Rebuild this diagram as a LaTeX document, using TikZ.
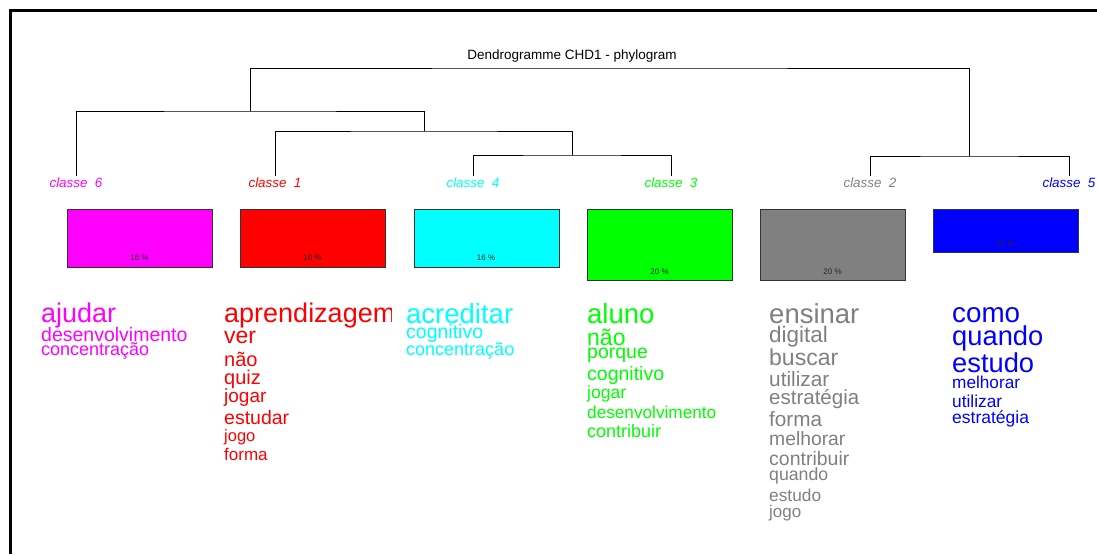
\documentclass[tikz,border=0pt]{standalone}
\usepackage{fontspec}
\setmainfont{Liberation Sans}
\definecolor{cmag}{HTML}{FF00FF}
\definecolor{cred}{HTML}{FF0000}
\definecolor{ccyan}{HTML}{00FFFF}
\definecolor{cgreen}{HTML}{00FF00}
\definecolor{cgray}{HTML}{808080}
\definecolor{cblue}{HTML}{0000FF}
\newcommand\fsz[1]{\fontsize{#1}{#1}\selectfont}
\tikzset{
  dl/.style={draw=black, line width=1pt},
  cls/.style={anchor=base, inner sep=0pt, outer sep=1pt, font=\fsz{13.4}\itshape},
  box/.style={draw=black!80, line width=0.8pt, anchor=north west, minimum width=145pt, inner sep=0pt},
  pct/.style={anchor=base, inner sep=0pt, font=\fsz{8}, text=black!85},
  w/.style={anchor=base west, inner sep=0pt},
}
\begin{document}
\begin{tikzpicture}[x=1pt,y=-1pt]
\useasboundingbox (0,0) rectangle (1097,554);
\fill[white] (0,0) rectangle (1097,554);
% frame
\draw[line width=3pt] (10,554) -- (10,10) -- (1097,10);
% title
\node[anchor=base, inner sep=0pt, font=\fsz{13.5}] (title) at (572,59) {Dendrogramme CHD1 - phylogram};
% class labels
\node[cls, text=cmag] (c6) at (76,187) {classe\ \ 6};
\node[cls, text=cred] (c1) at (275,187) {classe\ \ 1};
\node[cls, text=ccyan] (c4) at (473,187) {classe\ \ 4};
\node[cls, text=cgreen] (c3) at (671,187) {classe\ \ 3};
\node[cls, text=cgray] (c2) at (870,187) {classe\ \ 2};
\node[cls, text=cblue] (c5) at (1069,187) {classe\ \ 5};
% junctions
\coordinate (root) at (609.5,68);
\coordinate (A) at (250,111);
\coordinate (B) at (969,156);
\coordinate (C) at (424,131);
\coordinate (D) at (572,155);
\draw[dl] (A) |- (root) -| (B);
\draw[dl] (c6.north) |- (A) -| (C);
\draw[dl] (c1.north) |- (C) -| (D);
\draw[dl] (c4.north) |- (D) -| (c3.north);
\draw[dl] (c2.north) |- (B) -| (c5.north);
% boxes
\node[box, fill=cmag, minimum height=58pt] (b6) at (67,209) {};
\node[box, fill=cred, minimum height=58pt] (b1) at (240,209) {};
\node[box, fill=ccyan, minimum height=58pt] (b4) at (414,209) {};
\node[box, fill=cgreen, minimum height=71pt] (b3) at (587,209) {};
\node[box, fill=cgray, minimum height=71pt] (b2) at (760,209) {};
\node[box, fill=cblue, minimum height=43pt] (b5) at (933,209) {};
\node[pct] (p6) at (139.5,260) {16 \%};
\node[pct] (p1) at (312.5,260) {16 \%};
\node[pct] (p4) at (486,260) {16 \%};
\node[pct] (p3) at (659.5,274) {20 \%};
\node[pct] (p2) at (832.5,274) {20 \%};
\node[pct] (p5) at (1005.5,246) {12 \%};
% classe 6 words
\begin{scope}[every node/.style={w, text=cmag}]
\node[font=\fsz{27}] (w61) at (41,322) {ajudar};
\node[font=\fsz{19.5}] (w62) at (41,341) {desenvolvimento};
\node[font=\fsz{18}] (w63) at (41,355) {concentração};
\end{scope}
% classe 1 words
\begin{scope}
\clip (200,290) rectangle (391,335);
\node[w, text=cred, font=\fsz{27}] (w11) at (224,322) {aprendizagem};
\end{scope}
\begin{scope}[every node/.style={w, text=cred}]
\node[font=\fsz{23}] (w12) at (224,343) {ver};
\node[font=\fsz{20}] (w13) at (224,366) {não};
\node[font=\fsz{20}] (w14) at (224,384) {quiz};
\node[font=\fsz{19}] (w15) at (224,402) {jogar};
\node[font=\fsz{19.5}] (w16) at (224,424) {estudar};
\node[font=\fsz{16.5}] (w17) at (224,441) {jogo};
\node[font=\fsz{17}] (w18) at (224,460) {forma};
\end{scope}
% classe 4 words
\begin{scope}[every node/.style={w, text=ccyan}]
\node[font=\fsz{27.5}] (w41) at (406,323) {acreditar};
\node[font=\fsz{19.5}] (w42) at (406,338) {cognitivo};
\node[font=\fsz{18}] (w43) at (406,355) {concentração};
\end{scope}
% classe 3 words
\begin{scope}[every node/.style={w, text=cgreen}]
\node[font=\fsz{27.5}] (w31) at (587,323) {aluno};
\node[font=\fsz{23}] (w32) at (587,345) {não};
\node[font=\fsz{19.5}] (w33) at (587,358) {porque};
\node[font=\fsz{19.5}] (w34) at (587,380) {cognitivo};
\node[font=\fsz{17.5}] (w35) at (587,398) {jogar};
\node[font=\fsz{17.2}] (w36) at (587,418) {desenvolvimento};
\node[font=\fsz{18}] (w37) at (587,437) {contribuir};
\end{scope}
% classe 2 words
\begin{scope}[every node/.style={w, text=cgray}]
\node[font=\fsz{27.5}] (w21) at (769,323) {ensinar};
\node[font=\fsz{22.5}] (w22) at (769,342) {digital};
\node[font=\fsz{23}] (w23) at (769,365) {buscar};
\node[font=\fsz{20.8}] (w24) at (769,386) {utilizar};
\node[font=\fsz{20.5}] (w25) at (769,404) {estratégia};
\node[font=\fsz{20.7}] (w26) at (769,426) {forma};
\node[font=\fsz{19.3}] (w27) at (769,445) {melhorar};
\node[font=\fsz{19.5}] (w28) at (769,465) {contribuir};
\node[font=\fsz{17.7}] (w29) at (769,480) {quando};
\node[font=\fsz{17.3}] (w2a) at (769,501) {estudo};
\node[font=\fsz{17}] (w2b) at (769,517) {jogo};
\end{scope}
% classe 5 words
\begin{scope}[every node/.style={w, text=cblue}]
\node[font=\fsz{27.8}] (w51) at (952,322) {como};
\node[font=\fsz{27.3}] (w52) at (952,345) {quando};
\node[font=\fsz{27.3}] (w53) at (952,372) {estudo};
\node[font=\fsz{17.2}] (w54) at (952,388) {melhorar};
\node[font=\fsz{17.3}] (w55) at (952,407) {utilizar};
\node[font=\fsz{17.5}] (w56) at (952,423) {estratégia};
\end{scope}
\end{tikzpicture}
\end{document}
